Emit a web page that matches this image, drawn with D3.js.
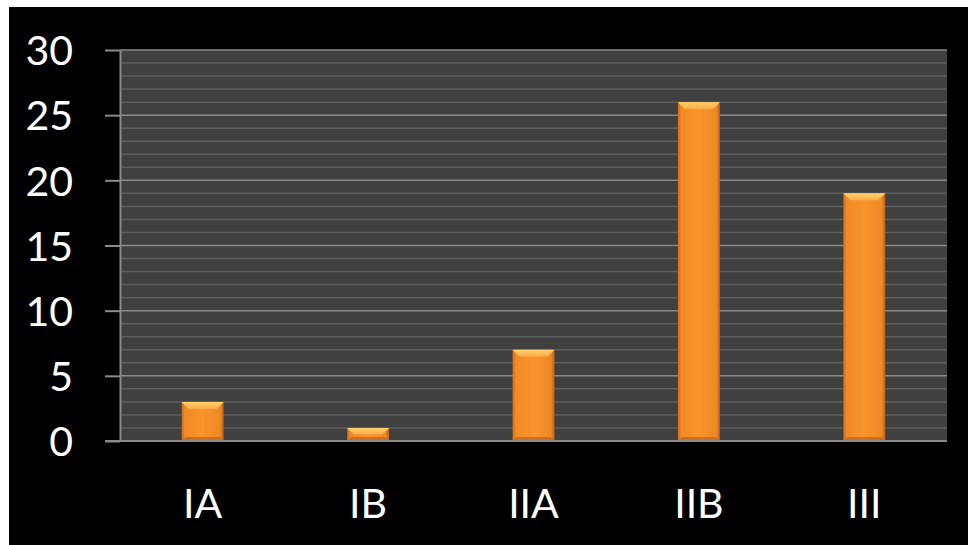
<!DOCTYPE html>
<html>
<head>
<meta charset="utf-8">
<script src="https://cdn.jsdelivr.net/npm/d3@7"></script>
<style>
  html, body { margin: 0; padding: 0; background: #fff; }
  svg { display: block; }
</style>
</head>
<body>
<svg id="chart" width="968" height="545"></svg>
<script>
// Stage counts
const categories = ["IA", "IB", "IIA", "IIB", "III"];
const counts = [3, 1, 7, 26, 19];
const yTicks = [0, 5, 10, 15, 20, 25, 30];
const yMinor = d3.range(0, 31, 1);

const W = 968, H = 545;
const plot = { left: 120, top: 50, right: 947, bottom: 441 };

const svg = d3.select("#chart");
const defs = svg.append("defs");

// black panel inside a thin white frame
svg.append("rect").attr("x", 9).attr("y", 7).attr("width", W - 9).attr("height", H - 7).attr("fill", "#000");

const x = d3.scaleBand().domain(categories).range([plot.left, plot.right]).paddingInner(0).paddingOuter(0);
const y = d3.scaleLinear().domain([0, 30]).range([plot.bottom, plot.top]);

// plot background
svg.append("rect")
  .attr("x", plot.left).attr("y", plot.top)
  .attr("width", plot.right - plot.left).attr("height", plot.bottom - plot.top)
  .attr("fill", "#404040");

// minor gridlines
svg.append("g").selectAll("line").data(yMinor.filter(v => v % 5 !== 0)).join("line")
  .attr("x1", plot.left).attr("x2", plot.right)
  .attr("y1", d => y(d)).attr("y2", d => y(d))
  .attr("stroke", "#5e5e5e").attr("stroke-width", 1.5);

// major gridlines
svg.append("g").selectAll("line").data(yTicks.filter(v => v > 0)).join("line")
  .attr("x1", plot.left).attr("x2", plot.right)
  .attr("y1", d => y(d)).attr("y2", d => y(d))
  .attr("stroke", "#8a8a8a").attr("stroke-width", 1.5);

// y axis with outward ticks
const yAxis = d3.axisLeft(y).tickValues(yTicks).tickSize(15).tickPadding(32).tickSizeOuter(0);
const gy = svg.append("g").attr("transform", `translate(${plot.left},0)`).call(yAxis);
gy.select(".domain").attr("stroke", "#8a8a8a").attr("stroke-width", 2);
gy.selectAll(".tick line").attr("stroke", "#8a8a8a").attr("stroke-width", 2);
gy.selectAll(".tick text")
  .attr("fill", "#fff")
  .attr("font-family", "Lato, 'Open Sans', sans-serif")
  .attr("font-size", 41)
  .attr("dy", "0.36em");

// bar gradients
const body = defs.append("linearGradient").attr("id", "barBody").attr("x1", 0).attr("x2", 1).attr("y1", 0).attr("y2", 0);
body.append("stop").attr("offset", "0%").attr("stop-color", "#c8681a");
body.append("stop").attr("offset", "7%").attr("stop-color", "#f08a26");
body.append("stop").attr("offset", "50%").attr("stop-color", "#f8942c");
body.append("stop").attr("offset", "92%").attr("stop-color", "#ee8826");
body.append("stop").attr("offset", "100%").attr("stop-color", "#b95e16");

const topG = defs.append("linearGradient").attr("id", "barTop").attr("x1", 0).attr("x2", 0).attr("y1", 0).attr("y2", 1);
topG.append("stop").attr("offset", "0%").attr("stop-color", "#ffd36e");
topG.append("stop").attr("offset", "100%").attr("stop-color", "#fba942");

const barW = 42;
const bevel = 7;
const data = categories.map((c, i) => ({ c, v: counts[i] }));

const bars = svg.append("g").selectAll("g").data(data).join("g");

bars.append("rect")
  .attr("x", d => x(d.c) + x.bandwidth() / 2 - barW / 2)
  .attr("y", d => y(d.v))
  .attr("width", barW)
  .attr("height", d => y(0) - y(d.v))
  .attr("fill", "url(#barBody)");

// bevelled top face
bars.append("path")
  .attr("d", d => {
    const x0 = x(d.c) + x.bandwidth() / 2 - barW / 2, x1 = x0 + barW;
    const t = y(d.v);
    const b = Math.min(bevel, (y(0) - t) / 2);
    return `M${x0},${t}L${x1},${t}L${x1 - b},${t + b}L${x0 + b},${t + b}Z`;
  })
  .attr("fill", "url(#barTop)");

// darker bottom edge
bars.append("path")
  .attr("d", d => {
    const x0 = x(d.c) + x.bandwidth() / 2 - barW / 2, x1 = x0 + barW;
    const bt = y(0);
    const b = Math.min(4, (y(0) - y(d.v)) / 3);
    return `M${x0},${bt}L${x1},${bt}L${x1 - b},${bt - b}L${x0 + b},${bt - b}Z`;
  })
  .attr("fill", "#c8691f").attr("opacity", 0.85);

// baseline over the bars
svg.append("line")
  .attr("x1", plot.left - 15).attr("x2", plot.right)
  .attr("y1", y(0)).attr("y2", y(0))
  .attr("stroke", "#8a8a8a").attr("stroke-width", 2);

// category labels
svg.append("g").selectAll("text").data(categories).join("text")
  .attr("x", d => x(d) + x.bandwidth() / 2)
  .attr("y", 518)
  .attr("text-anchor", "middle")
  .attr("fill", "#fff")
  .attr("font-family", "Lato, 'Open Sans', sans-serif")
  .attr("font-size", 41)
  .text(d => d);
</script>
</body>
</html>
